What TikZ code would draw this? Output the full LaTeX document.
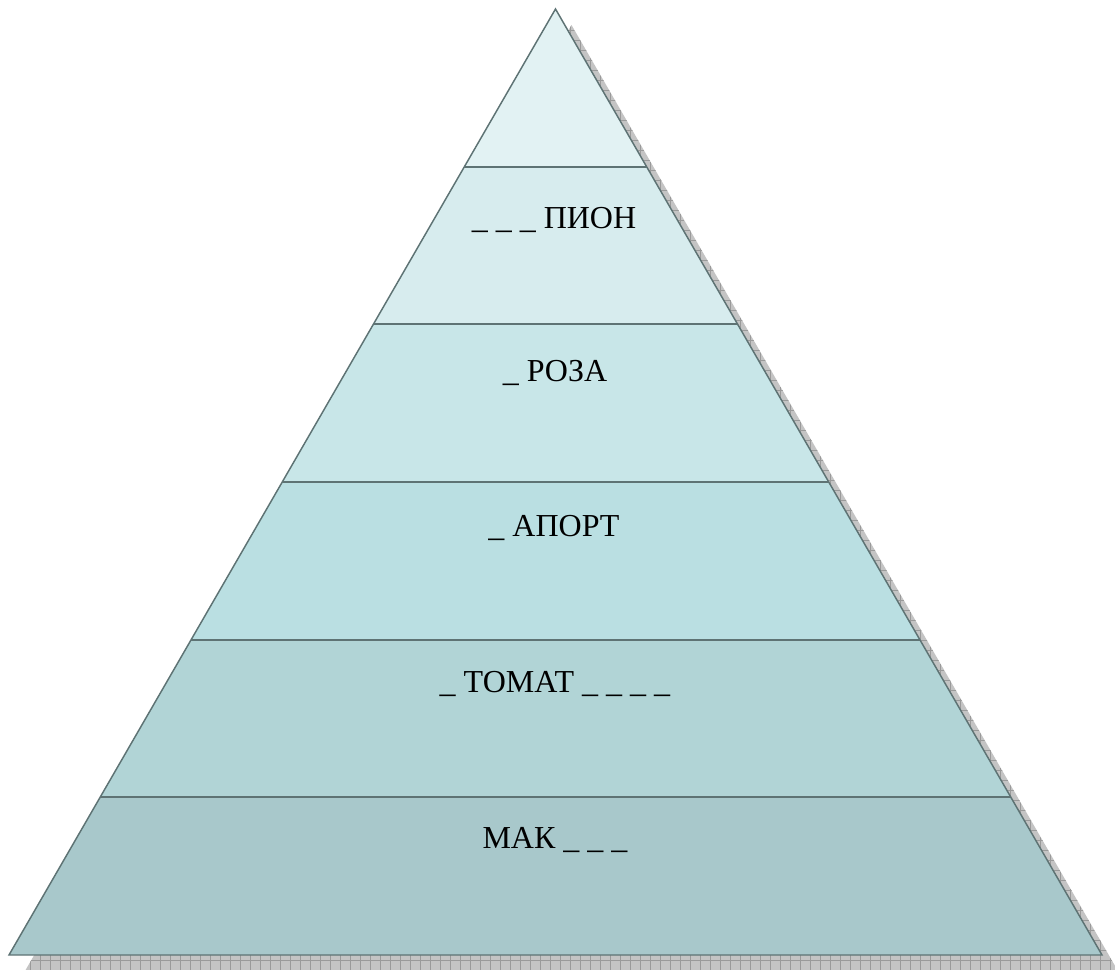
\documentclass[tikz,border=0pt]{standalone}
\usepackage{fontspec}
\setmainfont{Liberation Serif}
\usetikzlibrary{calc,patterns.meta}
\definecolor{edge}{HTML}{5E7374}
\definecolor{bandA}{HTML}{E2F2F3}
\definecolor{bandB}{HTML}{D7ECEE}
\definecolor{bandC}{HTML}{C8E6E8}
\definecolor{bandD}{HTML}{BADFE2}
\definecolor{bandE}{HTML}{B1D4D6}
\definecolor{bandF}{HTML}{A8C8CB}
\definecolor{shadowgray}{HTML}{C4C4C4}
\definecolor{shadowline}{HTML}{9A9A9A}
\tikzset{
  bandline/.style={draw=edge, line width=1.1pt, line join=miter},
  divider/.style={draw=edge, line width=1.6pt},
  label/.style={anchor=base, inner sep=0pt, font=\fontsize{24}{28}\selectfont, text=black},
}
\begin{document}
\begin{tikzpicture}[x=0.75pt,y=-0.75pt]
\useasboundingbox (0,0) rectangle (1115,970);
\clip (0,0) rectangle (1115,970);
% shadow
\coordinate (SA) at (571.5,25);
\coordinate (SL) at (25,971);
\coordinate (SR) at (1118,971);
\fill[shadowgray] (SA) -- (SL) -- (SR) -- cycle;
\fill[pattern={Lines[angle=0,distance=7.5pt,line width=0.5pt]},pattern color=shadowline] (SA) -- (SL) -- (SR) -- cycle;
\fill[pattern={Lines[angle=90,distance=7.5pt,line width=0.5pt]},pattern color=shadowline] (SA) -- (SL) -- (SR) -- cycle;
% main triangle
\coordinate (A) at (555.5,9);
\coordinate (L) at (9,955);
\coordinate (R) at (1102,955);
\foreach \k/\c in {0/bandA,1/bandB,2/bandC,3/bandD,4/bandE,5/bandF}{
  \pgfmathsetmacro{\a}{\k/6}
  \pgfmathsetmacro{\b}{(\k+1)/6}
  \fill[\c] ($(A)!\a!(L)$) -- ($(A)!\b!(L)$) -- ($(A)!\b!(R)$) -- ($(A)!\a!(R)$) -- cycle;
}
\foreach \k in {1,...,5}{
  \pgfmathsetmacro{\a}{\k/6}
  \draw[divider] ($(A)!\a!(L)$) -- ($(A)!\a!(R)$);
}
\draw[bandline] (A) -- (L) -- (R) -- cycle;
% labels
\node[label] (t1) at (554,229) {\_ \_ \_ ПИОН};
\node[label] (t2) at (555,381) {\_ РОЗА};
\node[label] (t3) at (554,536) {\_ АПОРТ};
\node[label] (t4) at (555,692) {\_ ТОМАТ \_ \_ \_ \_};
\node[label] (t5) at (555,848) {МАК \_ \_ \_};
\end{tikzpicture}
\end{document}
